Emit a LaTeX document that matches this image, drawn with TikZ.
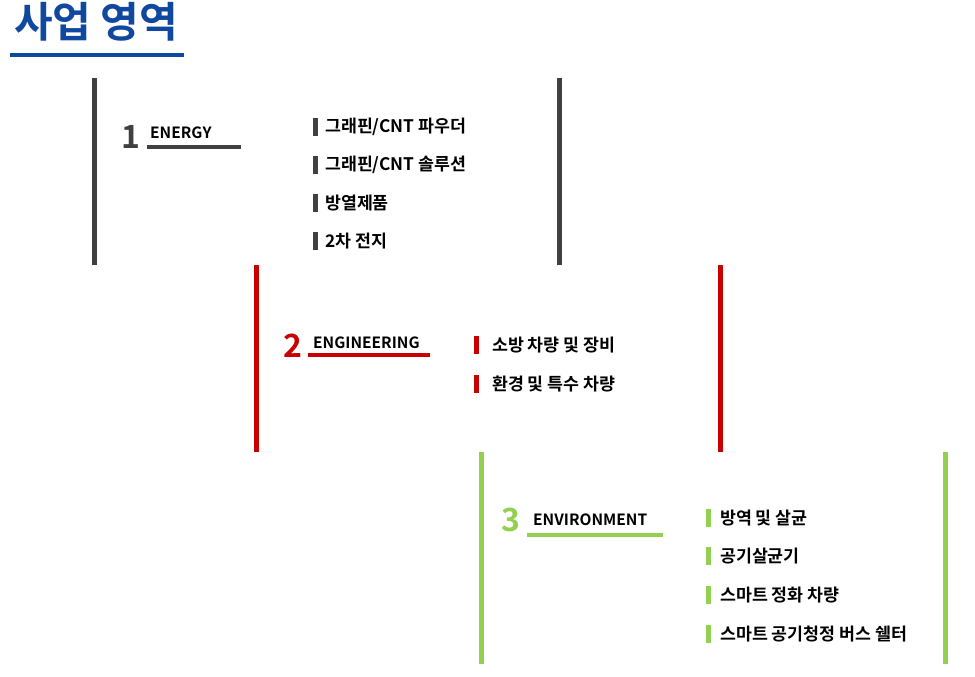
\documentclass[tikz,border=0pt]{standalone}
\usepackage{fontspec}
\setmainfont{Noto Sans CJK KR}[BoldFont={Noto Sans CJK KR Bold}]
\definecolor{tblue}{RGB}{16,72,160}
\definecolor{dgray}{RGB}{64,64,64}
\definecolor{cred}{RGB}{200,0,0}
\definecolor{cgreen}{RGB}{146,208,80}
\begin{document}
\begin{tikzpicture}[x=1pt,y=-1pt,
  vbar/.style={line width=5pt},
  ubar/.style={line width=3.5pt},
  item/.style={anchor=west,font=\bfseries\fontsize{17.3}{19}\selectfont,inner sep=0pt},
  head/.style={anchor=west,font=\bfseries\fontsize{15.5}{17}\selectfont,inner sep=0pt},
  num/.style={anchor=west,font=\bfseries\fontsize{32}{34}\selectfont,inner sep=0pt}]
\useasboundingbox (0,0) rectangle (975,677);
\node[anchor=west,inner sep=0pt,text=tblue,font=\bfseries\fontsize{42}{45}\selectfont] (title) at (14,22) {사업 영역};
\draw[tblue,line width=4pt] (10,55) -- (184,55);
% section 1
\draw[dgray,vbar] (94,78) -- (94,265);
\draw[dgray,vbar] (559,78) -- (559,265);
\node[num,text=dgray] (n1) at (121,137) {1};
\node[head] (h1) at (150,133) {ENERGY};
\draw[dgray,ubar] (147,147) -- (241,147);
\foreach \t [count=\i] in {그래핀/CNT 파우더,그래핀/CNT 솔루션,방열제품,2차 전지}{
  \pgfmathsetmacro\yy{89+38*\i}
  \draw[dgray,line width=5pt] (315,\yy-9) -- (315,\yy+9);
  \node[item] (a\i) at (325,\yy) {\t};
}
% section 2
\draw[cred,vbar] (256,265) -- (256,452);
\draw[cred,vbar] (720,265) -- (720,452);
\node[num,text=cred] (n2) at (283,346) {2};
\node[head] (h2) at (313,343) {ENGINEERING};
\draw[cred,ubar] (308,355) -- (430,355);
\foreach \t [count=\i] in {소방 차량 및 장비,환경 및 특수 차량}{
  \pgfmathsetmacro\yy{306+39*\i}
  \draw[cred,line width=5pt] (476,\yy-9) -- (476,\yy+9);
  \node[item] (b\i) at (492,\yy) {\t};
}
% section 3
\draw[cgreen,vbar] (481,452) -- (481,664);
\draw[cgreen,vbar] (945,452) -- (945,664);
\node[num,text=cgreen] (n3) at (501,520) {3};
\node[head] (h3) at (533,520) {ENVIRONMENT};
\draw[cgreen,ubar] (527,535) -- (663,535);
\foreach \t [count=\i] in {방역 및 살균,공기살균기,스마트 정화 차량,스마트 공기청정 버스 쉘터}{
  \pgfmathsetmacro\yy{479+38.7*\i}
  \draw[cgreen,line width=5pt] (708,\yy-9) -- (708,\yy+9);
  \node[item] (c\i) at (720,\yy) {\t};
}
\end{tikzpicture}
\end{document}
